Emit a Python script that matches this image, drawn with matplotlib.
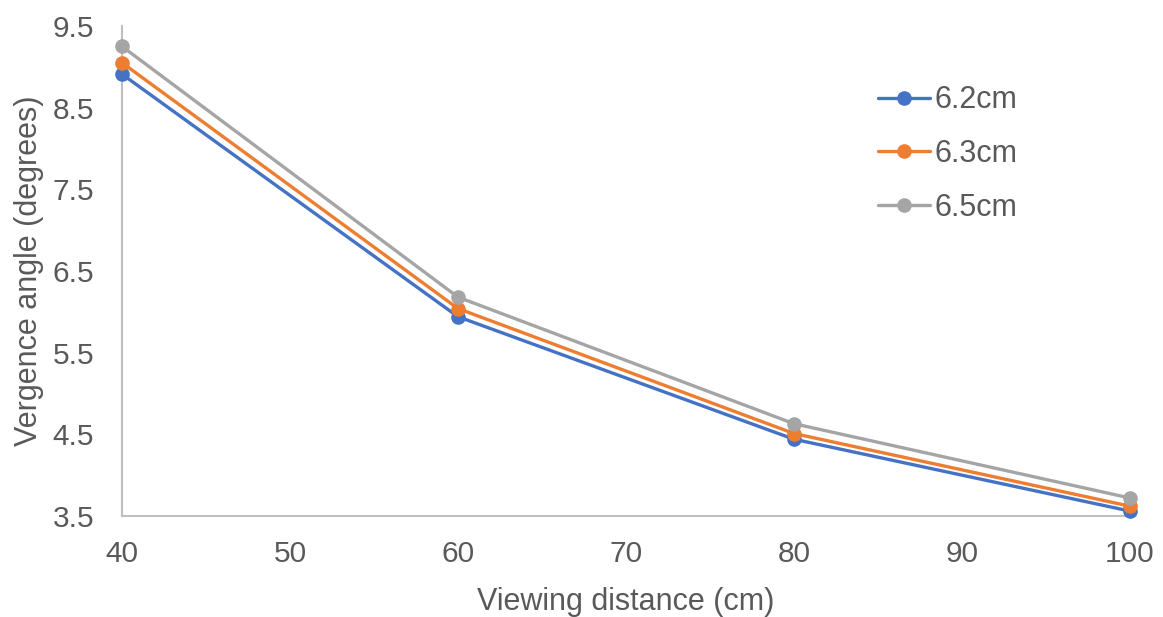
import matplotlib
matplotlib.use("Agg")
import matplotlib.pyplot as plt

distances = [40, 60, 80, 100]
ipd_labels = ["6.2cm", "6.3cm", "6.5cm"]
vals_62 = [8.91, 5.94, 4.44, 3.56]
vals_63 = [9.05, 6.04, 4.51, 3.62]
vals_65 = [9.25, 6.18, 4.63, 3.72]
colors = ["#4472C4", "#ED7D31", "#A5A5A5"]

plt.rcParams['font.family'] = ['Liberation Sans', 'DejaVu Sans']
fig = plt.figure(figsize=(11.63, 6.17), dpi=100)
ax = fig.add_axes([0.1049, 0.1637, 0.9716 - 0.1049, 0.9579 - 0.1637])

for vals, lab, c in zip([vals_62, vals_63, vals_65], ipd_labels, colors):
    ax.plot(distances, vals, color=c, lw=2.4, marker='o', ms=9.5, label=lab,
            solid_capstyle='round', clip_on=False, zorder=3)

ax.set_xlim(40, 100)
ax.set_ylim(3.5, 9.5)
ax.set_xticks([40, 50, 60, 70, 80, 90, 100])
ax.set_yticks([3.5, 4.5, 5.5, 6.5, 7.5, 8.5, 9.5])
ax.set_yticklabels(["3.5", "4.5", "5.5", "6.5", "7.5", "8.5", "9.5"])
for s in ['top', 'right']:
    ax.spines[s].set_visible(False)
for s in ['left', 'bottom']:
    ax.spines[s].set_color('#BFBFBF')
    ax.spines[s].set_linewidth(1.5)
ax.tick_params(length=0, labelsize=21.5, colors='#595959')
ax.tick_params(axis='y', pad=20)
ax.tick_params(axis='x', pad=17)
ax.set_xlabel("Viewing distance (cm)", fontsize=22, color='#595959', labelpad=14)
ax.set_ylabel("Vergence angle (degrees)", fontsize=22, color='#595959', labelpad=6)

leg = ax.legend(loc='upper left', bbox_to_anchor=(0.723, 0.935), frameon=False,
                fontsize=22, labelcolor='#595959', handlelength=1.7,
                handletextpad=0.15, labelspacing=0.78)

fig.savefig("out.png", dpi=100)
